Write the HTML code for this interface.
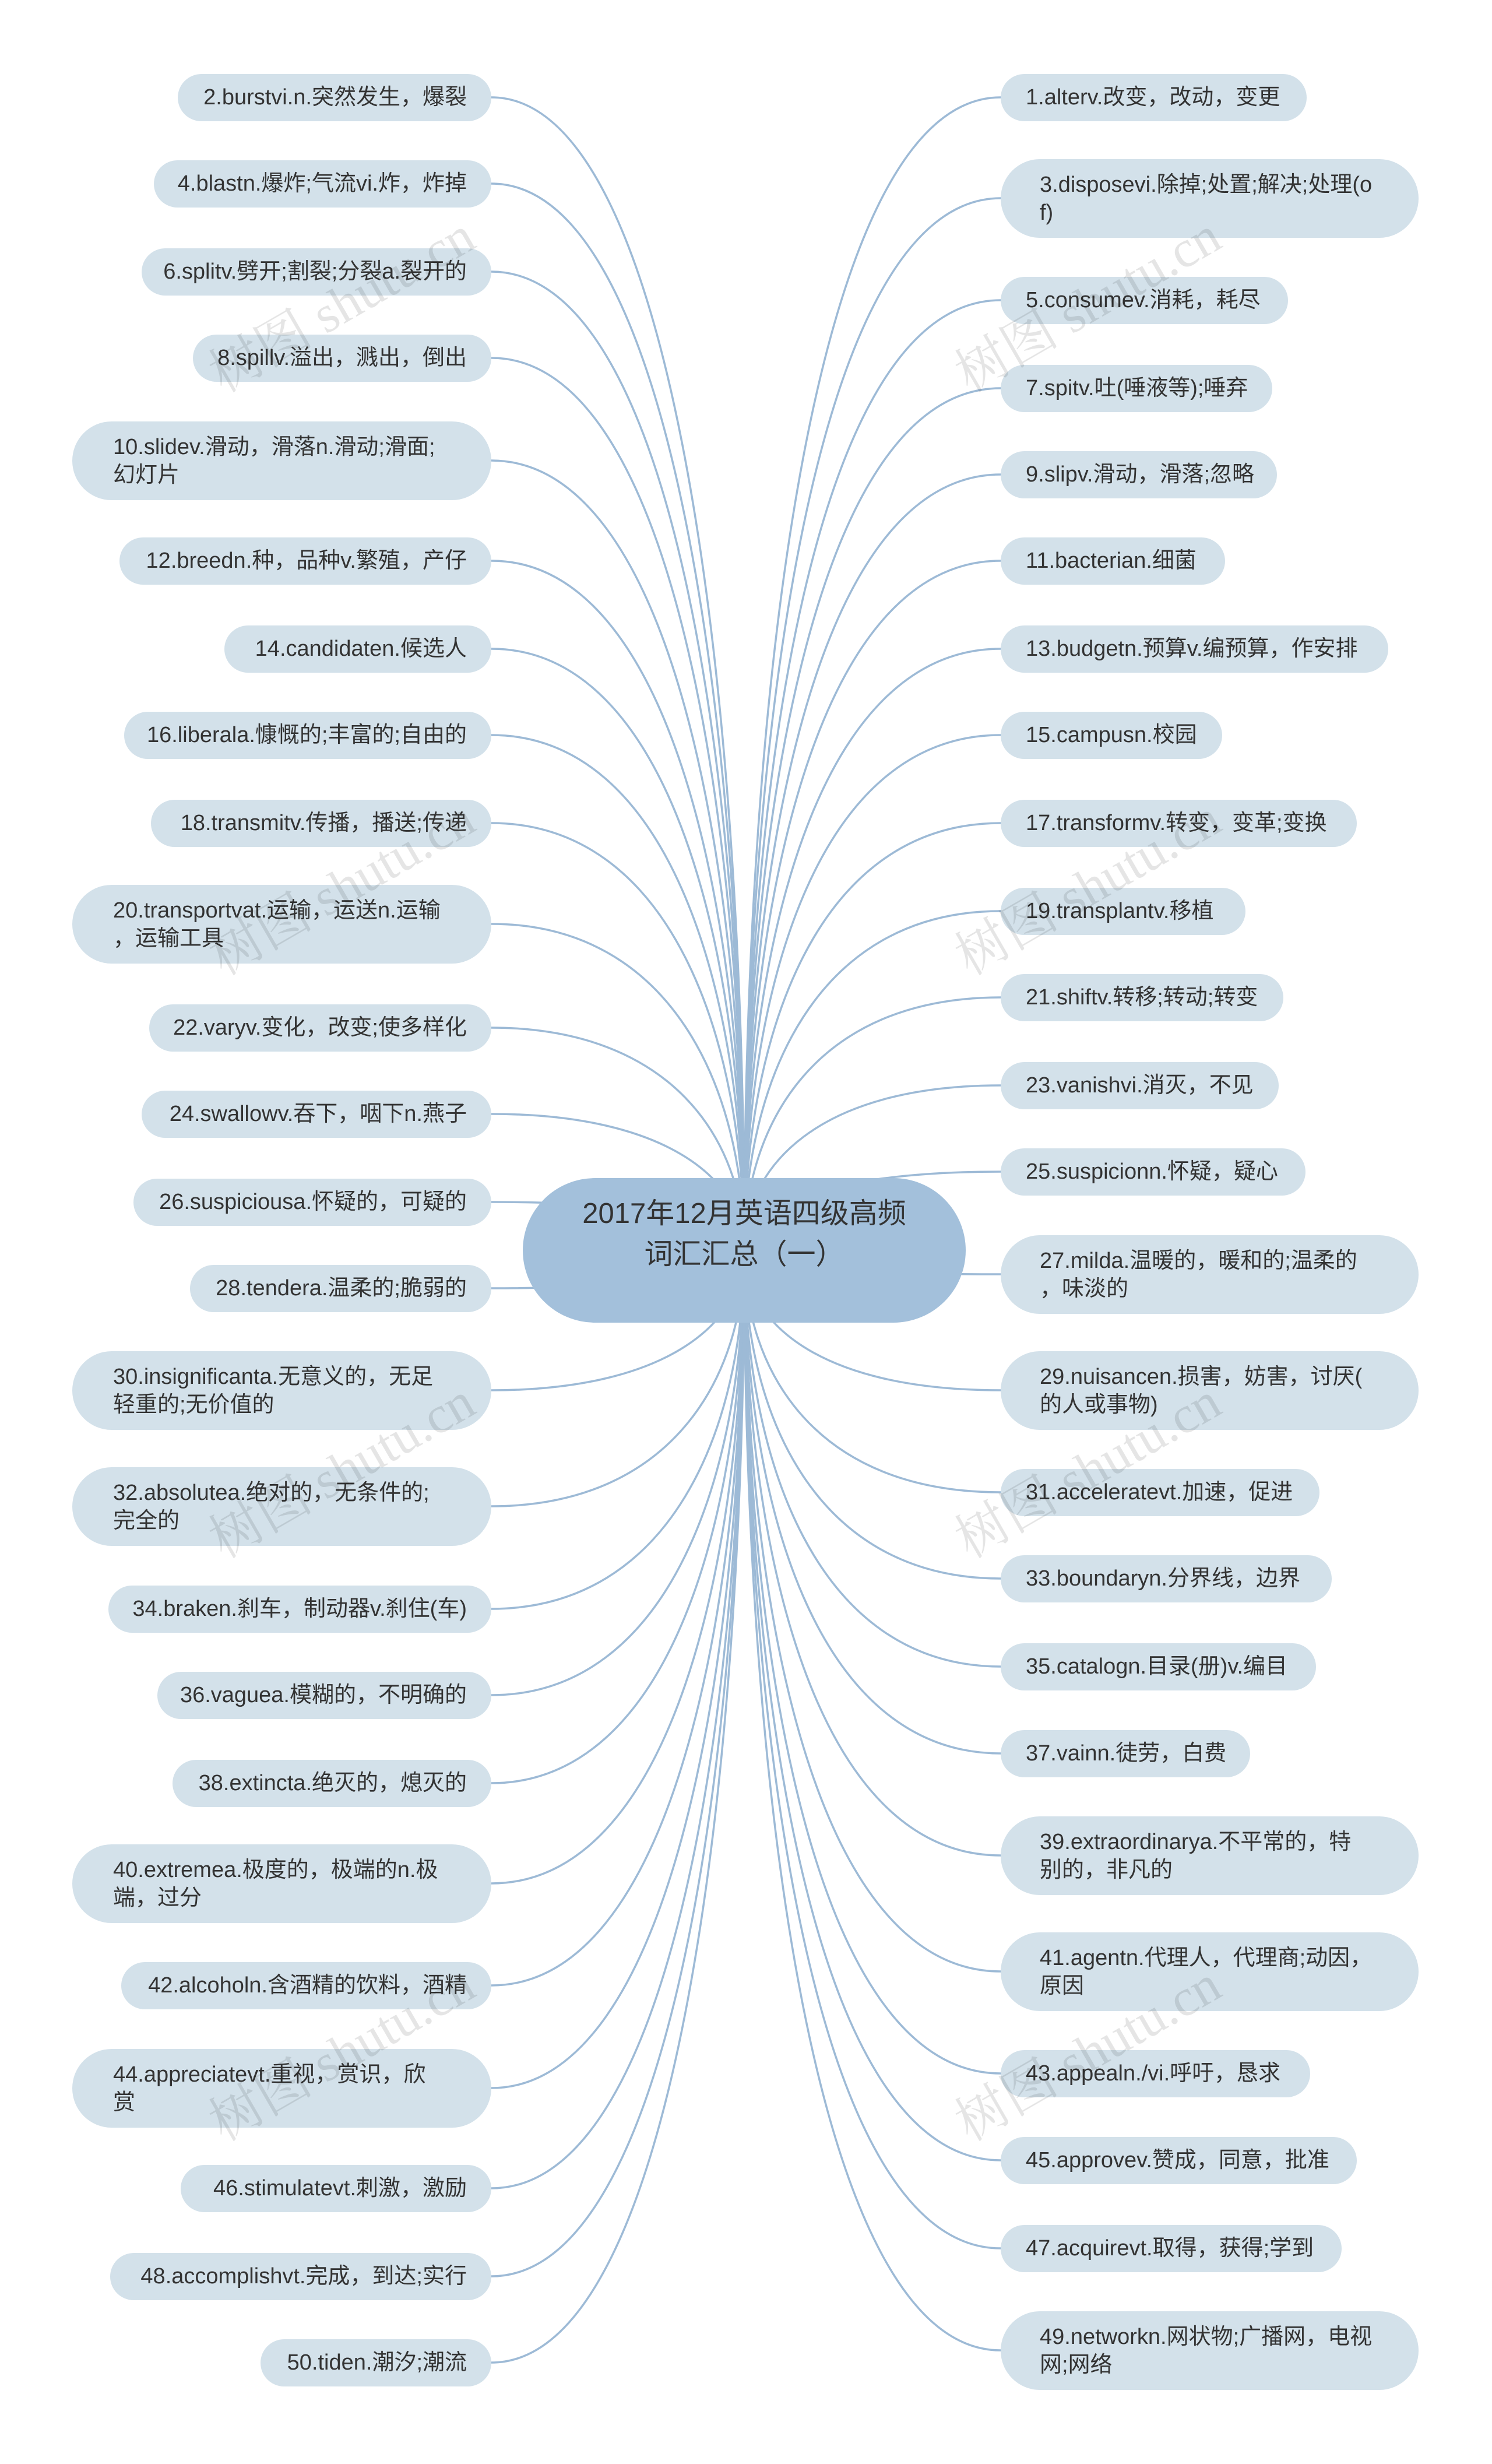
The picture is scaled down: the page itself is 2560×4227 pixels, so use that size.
<!DOCTYPE html>
<html><head><meta charset="utf-8"><style>
body{margin:0;width:2560px;height:4227px;background:#fff;position:relative;overflow:hidden;font-family:"Liberation Sans","Noto Sans CJK SC",sans-serif;}
.n{position:absolute;background:#d3e1ea;border-radius:45px;color:#333;font-size:38px;box-sizing:border-box;height:81px;line-height:81px;white-space:nowrap;}
.l{text-align:right;padding-right:42px;}
.r{padding-left:43px;}
.d{height:135px;line-height:48px;padding-top:20px;border-radius:68px;}
.l.d{text-align:left;padding-left:70px;padding-right:20px;}
.r.d{padding-left:67px;padding-right:20px;}
.c{position:absolute;left:897px;top:2021px;width:760px;height:248px;background:#a3c0db;border-radius:124px;color:#333;font-size:49px;text-align:center;line-height:70px;padding-top:26px;box-sizing:border-box;}
.w{position:absolute;font-size:90px;color:rgba(0,0,0,0.10);transform:rotate(-30deg);font-family:"Liberation Serif","Noto Serif CJK SC",serif;white-space:nowrap;}
</style></head><body>
<svg width="2560" height="4227" style="position:absolute;left:0;top:0" fill="none" stroke="#9dbad6" stroke-width="3.5">
<path d="M843,167 C1150,167 1277,1156 1277,2145"/>
<path d="M843,315 C1150,315 1277,1230 1277,2145"/>
<path d="M843,466 C1150,466 1277,1306 1277,2145"/>
<path d="M843,614 C1150,614 1277,1380 1277,2145"/>
<path d="M843,790 C1150,790 1277,1468 1277,2145"/>
<path d="M843,962 C1150,962 1277,1554 1277,2145"/>
<path d="M843,1113 C1150,1113 1277,1629 1277,2145"/>
<path d="M843,1261 C1150,1261 1277,1703 1277,2145"/>
<path d="M843,1412 C1150,1412 1277,1779 1277,2145"/>
<path d="M843,1585 C1150,1585 1277,1865 1277,2145"/>
<path d="M843,1763 C1150,1763 1277,1954 1277,2145"/>
<path d="M843,1911 C1150,1911 1277,2028 1277,2145"/>
<path d="M843,2062 C1150,2062 1277,2104 1277,2145"/>
<path d="M843,2210 C1150,2210 1277,2178 1277,2145"/>
<path d="M843,2385 C1150,2385 1277,2265 1277,2145"/>
<path d="M843,2584 C1150,2584 1277,2365 1277,2145"/>
<path d="M843,2760 C1150,2760 1277,2453 1277,2145"/>
<path d="M843,2908 C1150,2908 1277,2527 1277,2145"/>
<path d="M843,3059 C1150,3059 1277,2602 1277,2145"/>
<path d="M843,3231 C1150,3231 1277,2688 1277,2145"/>
<path d="M843,3406 C1150,3406 1277,2776 1277,2145"/>
<path d="M843,3582 C1150,3582 1277,2864 1277,2145"/>
<path d="M843,3754 C1150,3754 1277,2950 1277,2145"/>
<path d="M843,3905 C1150,3905 1277,3025 1277,2145"/>
<path d="M843,4053 C1150,4053 1277,3099 1277,2145"/>
<path d="M1717,167 C1400,167 1277,1156 1277,2145"/>
<path d="M1717,340 C1400,340 1277,1243 1277,2145"/>
<path d="M1717,515 C1400,515 1277,1330 1277,2145"/>
<path d="M1717,666 C1400,666 1277,1406 1277,2145"/>
<path d="M1717,814 C1400,814 1277,1480 1277,2145"/>
<path d="M1717,962 C1400,962 1277,1554 1277,2145"/>
<path d="M1717,1113 C1400,1113 1277,1629 1277,2145"/>
<path d="M1717,1261 C1400,1261 1277,1703 1277,2145"/>
<path d="M1717,1412 C1400,1412 1277,1779 1277,2145"/>
<path d="M1717,1563 C1400,1563 1277,1854 1277,2145"/>
<path d="M1717,1711 C1400,1711 1277,1928 1277,2145"/>
<path d="M1717,1862 C1400,1862 1277,2004 1277,2145"/>
<path d="M1717,2010 C1400,2010 1277,2078 1277,2145"/>
<path d="M1717,2186 C1400,2186 1277,2166 1277,2145"/>
<path d="M1717,2385 C1400,2385 1277,2265 1277,2145"/>
<path d="M1717,2560 C1400,2560 1277,2353 1277,2145"/>
<path d="M1717,2708 C1400,2708 1277,2427 1277,2145"/>
<path d="M1717,2859 C1400,2859 1277,2502 1277,2145"/>
<path d="M1717,3008 C1400,3008 1277,2577 1277,2145"/>
<path d="M1717,3183 C1400,3183 1277,2664 1277,2145"/>
<path d="M1717,3382 C1400,3382 1277,2764 1277,2145"/>
<path d="M1717,3557 C1400,3557 1277,2851 1277,2145"/>
<path d="M1717,3706 C1400,3706 1277,2926 1277,2145"/>
<path d="M1717,3857 C1400,3857 1277,3001 1277,2145"/>
<path d="M1717,4032 C1400,4032 1277,3089 1277,2145"/>
</svg>

<div class="n l" style="left:305px;width:538px;top:127px">2.burstvi.n.突然发生，爆裂</div>
<div class="n l" style="left:264px;width:579px;top:275px">4.blastn.爆炸;气流vi.炸，炸掉</div>
<div class="n l" style="left:243px;width:600px;top:426px">6.splitv.劈开;割裂;分裂a.裂开的</div>
<div class="n l" style="left:331px;width:512px;top:574px">8.spillv.溢出，溅出，倒出</div>
<div class="n l d" style="left:124px;width:719px;top:723px">10.slidev.滑动，滑落n.滑动;滑面;<br>幻灯片</div>
<div class="n l" style="left:205px;width:638px;top:922px">12.breedn.种，品种v.繁殖，产仔</div>
<div class="n l" style="left:385px;width:458px;top:1073px">14.candidaten.候选人</div>
<div class="n l" style="left:213px;width:630px;top:1221px">16.liberala.慷慨的;丰富的;自由的</div>
<div class="n l" style="left:259px;width:584px;top:1372px">18.transmitv.传播，播送;传递</div>
<div class="n l d" style="left:124px;width:719px;top:1518px">20.transportvat.运输，运送n.运输<br>，运输工具</div>
<div class="n l" style="left:256px;width:587px;top:1723px">22.varyv.变化，改变;使多样化</div>
<div class="n l" style="left:243px;width:600px;top:1871px">24.swallowv.吞下，咽下n.燕子</div>
<div class="n l" style="left:229px;width:614px;top:2022px">26.suspiciousa.怀疑的，可疑的</div>
<div class="n l" style="left:326px;width:517px;top:2170px">28.tendera.温柔的;脆弱的</div>
<div class="n l d" style="left:124px;width:719px;top:2318px">30.insignificanta.无意义的，无足<br>轻重的;无价值的</div>
<div class="n l d" style="left:124px;width:719px;top:2517px">32.absolutea.绝对的，无条件的;<br>完全的</div>
<div class="n l" style="left:186px;width:657px;top:2720px">34.braken.刹车，制动器v.刹住(车)</div>
<div class="n l" style="left:270px;width:573px;top:2868px">36.vaguea.模糊的，不明确的</div>
<div class="n l" style="left:296px;width:547px;top:3019px">38.extincta.绝灭的，熄灭的</div>
<div class="n l d" style="left:124px;width:719px;top:3164px">40.extremea.极度的，极端的n.极<br>端，过分</div>
<div class="n l" style="left:208px;width:635px;top:3366px">42.alcoholn.含酒精的饮料，酒精</div>
<div class="n l d" style="left:124px;width:719px;top:3515px">44.appreciatevt.重视，赏识，欣<br>赏</div>
<div class="n l" style="left:310px;width:533px;top:3714px">46.stimulatevt.刺激，激励</div>
<div class="n l" style="left:189px;width:654px;top:3865px">48.accomplishvt.完成，到达;实行</div>
<div class="n l" style="left:447px;width:396px;top:4013px">50.tiden.潮汐;潮流</div>

<div class="n r" style="left:1717px;width:525px;top:127px">1.alterv.改变，改动，变更</div>
<div class="n r d" style="left:1717px;width:717px;top:273px">3.disposevi.除掉;处置;解决;处理(o<br>f)</div>
<div class="n r" style="left:1717px;width:493px;top:475px">5.consumev.消耗，耗尽</div>
<div class="n r" style="left:1717px;width:466px;top:626px">7.spitv.吐(唾液等);唾弃</div>
<div class="n r" style="left:1717px;width:474px;top:774px">9.slipv.滑动，滑落;忽略</div>
<div class="n r" style="left:1717px;width:385px;top:922px">11.bacterian.细菌</div>
<div class="n r" style="left:1717px;width:665px;top:1073px">13.budgetn.预算v.编预算，作安排</div>
<div class="n r" style="left:1717px;width:380px;top:1221px">15.campusn.校园</div>
<div class="n r" style="left:1717px;width:611px;top:1372px">17.transformv.转变，变革;变换</div>
<div class="n r" style="left:1717px;width:420px;top:1523px">19.transplantv.移植</div>
<div class="n r" style="left:1717px;width:485px;top:1671px">21.shiftv.转移;转动;转变</div>
<div class="n r" style="left:1717px;width:477px;top:1822px">23.vanishvi.消灭，不见</div>
<div class="n r" style="left:1717px;width:523px;top:1970px">25.suspicionn.怀疑，疑心</div>
<div class="n r d" style="left:1717px;width:717px;top:2119px">27.milda.温暖的，暖和的;温柔的<br>，味淡的</div>
<div class="n r d" style="left:1717px;width:717px;top:2318px">29.nuisancen.损害，妨害，讨厌(<br>的人或事物)</div>
<div class="n r" style="left:1717px;width:547px;top:2520px">31.acceleratevt.加速，促进</div>
<div class="n r" style="left:1717px;width:568px;top:2668px">33.boundaryn.分界线，边界</div>
<div class="n r" style="left:1717px;width:541px;top:2819px">35.catalogn.目录(册)v.编目</div>
<div class="n r" style="left:1717px;width:428px;top:2968px">37.vainn.徒劳，白费</div>
<div class="n r d" style="left:1717px;width:717px;top:3116px">39.extraordinarya.不平常的，特<br>别的，非凡的</div>
<div class="n r d" style="left:1717px;width:717px;top:3315px">41.agentn.代理人，代理商;动因，<br>原因</div>
<div class="n r" style="left:1717px;width:531px;top:3517px">43.appealn./vi.呼吁，恳求</div>
<div class="n r" style="left:1717px;width:611px;top:3666px">45.approvev.赞成，同意，批准</div>
<div class="n r" style="left:1717px;width:585px;top:3817px">47.acquirevt.取得，获得;学到</div>
<div class="n r d" style="left:1717px;width:717px;top:3965px">49.networkn.网状物;广播网，电视<br>网;网络</div>

<div class="c">2017年12月英语四级高频<br>词汇汇总（一）</div>

<div class="w" style="left:330px;top:450px">树图 shutu.cn</div>
<div class="w" style="left:330px;top:1450px">树图 shutu.cn</div>
<div class="w" style="left:330px;top:2450px">树图 shutu.cn</div>
<div class="w" style="left:330px;top:3450px">树图 shutu.cn</div>
<div class="w" style="left:1610px;top:450px">树图 shutu.cn</div>
<div class="w" style="left:1610px;top:1450px">树图 shutu.cn</div>
<div class="w" style="left:1610px;top:2450px">树图 shutu.cn</div>
<div class="w" style="left:1610px;top:3450px">树图 shutu.cn</div>
</body></html>
